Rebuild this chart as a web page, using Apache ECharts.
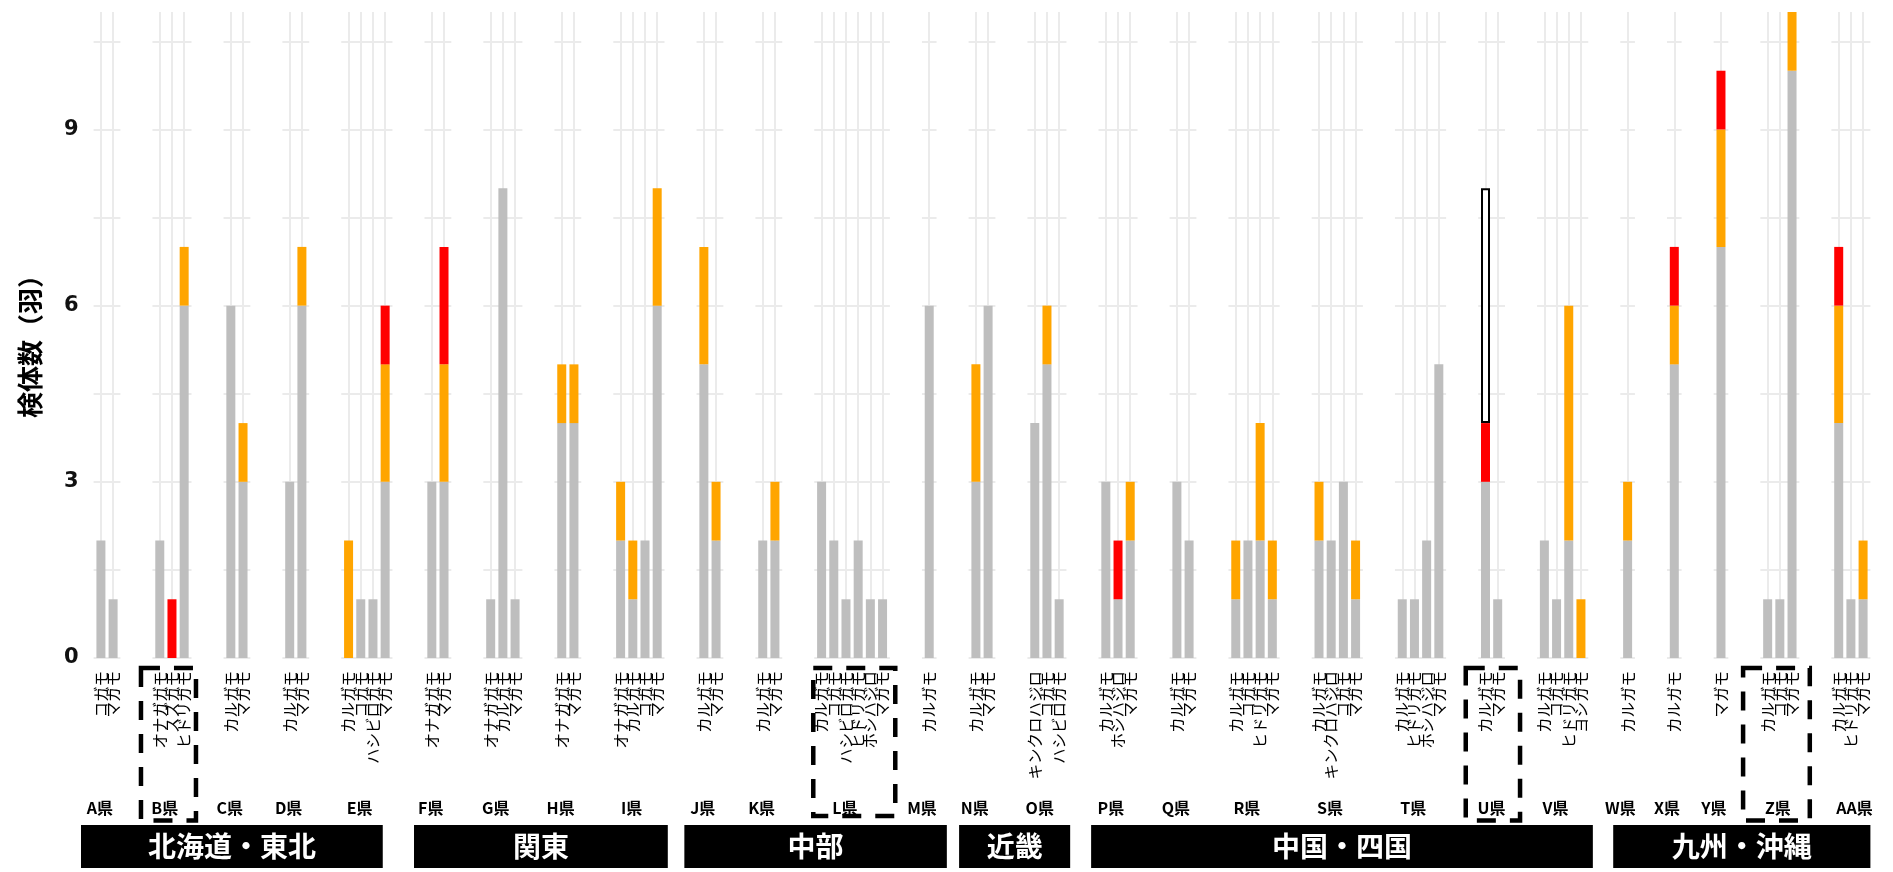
<!DOCTYPE html>
<html>
<head>
<meta charset="utf-8">
<script src="https://cdn.jsdelivr.net/npm/echarts@6/dist/echarts.min.js"></script>
<style>
html,body{margin:0;padding:0;background:#fff;}
#chart{width:1893px;height:872px;}
</style>
</head>
<body>
<div id="chart"></div>
<script>
// ---------------- DATA ----------------
const prefectures = ['A県','B県','C県','D県','E県','F県','G県','H県','I県','J県','K県','L県','M県','N県','O県','P県','Q県','R県','S県','T県','U県','V県','W県','X県','Y県','Z県','AA県'];
const speciesByPref = [
  ['コガモ','マガモ'],
  ['オナガガモ','スズガモ','ヒドリガモ'],
  ['カルガモ','マガモ'],
  ['カルガモ','マガモ'],
  ['カルガモ','コガモ','ハシビロガモ','マガモ'],
  ['オナガガモ','マガモ'],
  ['オナガガモ','カルガモ','マガモ'],
  ['オナガガモ','マガモ'],
  ['オナガガモ','カルガモ','コガモ','マガモ'],
  ['カルガモ','マガモ'],
  ['カルガモ','マガモ'],
  ['カルガモ','コガモ','ハシビロガモ','ヒドリガモ','ホシハジロ','マガモ'],
  ['カルガモ'],
  ['カルガモ','マガモ'],
  ['キンクロハジロ','コガモ','ハシビロガモ'],
  ['カルガモ','ホシハジロ','マガモ'],
  ['カルガモ','マガモ'],
  ['カルガモ','コガモ','ヒドリガモ','マガモ'],
  ['カルガモ','キンクロハジロ','コガモ','マガモ'],
  ['カルガモ','ヒドリガモ','ホシハジロ','マガモ'],
  ['カルガモ','マガモ'],
  ['カルガモ','コガモ','ヒドリガモ','ヨシガモ'],
  ['カルガモ'],
  ['カルガモ'],
  ['マガモ'],
  ['カルガモ','コガモ','マガモ'],
  ['カルガモ','ヒドリガモ','マガモ']
];
const grayValues = [
  [2,1],[2,0,6],[6,3],[3,6],[0,1,1,3],[3,3],[1,8,1],[4,4],[2,1,2,6],[5,2],[2,2],
  [3,2,1,2,1,1],[6],[3,6],[4,5,1],[3,1,2],[3,2],[1,2,2,1],[2,2,3,1],[1,1,2,5],
  [3,1],[2,1,2,0],[2],[5],[7],[1,1,10],[4,1,1]
];
const orangeValues = [
  [0,0],[0,0,1],[0,1],[0,1],[2,0,0,2],[0,2],[0,0,0],[1,1],[1,1,0,2],[2,1],[0,1],
  [0,0,0,0,0,0],[0],[2,0],[0,1,0],[0,0,1],[0,0],[1,0,2,1],[1,0,0,1],[0,0,0,0],
  [0,0],[0,0,4,1],[1],[1],[2],[0,0,1],[2,0,1]
];
const redValues = [
  [0,0],[0,1,0],[0,0],[0,0],[0,0,0,1],[0,2],[0,0,0],[0,0],[0,0,0,0],[0,0],[0,0],
  [0,0,0,0,0,0],[0],[0,0],[0,0,0],[0,1,0],[0,0],[0,0,0,0],[0,0,0,0],[0,0,0,0],
  [1,0],[0,0,0,0],[0],[1],[1],[0,0,0],[1,0,0]
];
const whiteValues = [
  [0,0],[0,0,0],[0,0],[0,0],[0,0,0,0],[0,0],[0,0,0],[0,0],[0,0,0,0],[0,0],[0,0],
  [0,0,0,0,0,0],[0],[0,0],[0,0,0],[0,0,0],[0,0],[0,0,0,0],[0,0,0,0],[0,0,0,0],
  [4,0],[0,0,0,0],[0],[0],[0],[0,0,0],[0,0,0]
];
const regionNames = ['北海道・東北','関東','中部','近畿','中国・四国','九州・沖縄'];
const regionMembers = [[0,4],[5,8],[9,12],[13,14],[15,21],[22,26]];
const highlighted = [1, 11, 20, 25];
const yTickLabels = [0, 3, 6, 9];
const yAxisTitle = '検体数（羽）';

// ---------------- LAYOUT / STYLE ----------------
const UNIT = 12.19, GAP = 32.05, LEFT0 = 93.6, TOP = 12, PLOT_H = 646, H = 872;
const Y_MAX = 11, STEP = 1.5;
const BAR_W = 9;
const C_GRAY = '#BEBEBE', C_ORANGE = '#FFA500', C_RED = '#FF0000', C_GRID = '#EBEBEB';
const JP = '"Noto Sans CJK JP", "Noto Sans", sans-serif';
const prefLabelShift = prefectures.map((p, i) => i === 20 ? 0 : (i === 25 ? -2 : (i === 26 ? 3.5 : -7.2)));
const regionPads = [[-12.6,-9.7],[-10.5,3.3],[-12.2,10.3],[-9.5,3.7],[-7.4,4.6],[-7.1,0]];
const boxGeom = {1:[-3.5,55,820.5], 11:[2.2,82,816], 20:[1.3,54.3,820.5], 25:[-3.4,66.7,820.5]};

const panels = [];
let cx = LEFT0;
speciesByPref.forEach(sp => {
  const w = (sp.length + 0.2) * UNIT;
  panels.push({left: cx, width: w});
  cx += w + GAP;
});

const grids = [], xAxes = [], yAxes = [], series = [];
const isCentre = idx => idx % 5 === 3;

speciesByPref.forEach((sp, i) => {
  const n = sp.length;
  const cats = [];
  for (let k = 0; k < 5 * n + 2; k++) cats.push('p' + k);
  sp.forEach((name, j) => { cats[3 + 5 * j] = name; });
  const P = panels[i];
  grids.push({left: P.left, width: P.width, top: TOP, height: PLOT_H, containLabel: false});
  const shift = prefLabelShift[i];
  xAxes.push({
    type: 'category', gridIndex: i, data: cats, boundaryGap: false,
    axisLine: {show: false}, axisTick: {show: false},
    axisLabel: {show: false},
    splitLine: {show: true, interval: isCentre, lineStyle: {color: C_GRID, width: 2}},
    name: prefectures[i], nameLocation: 'middle', nameGap: 142, nameMoveOverlap: false,
    nameTextStyle: {fontSize: 16, fontWeight: 'bold', color: '#000', fontFamily: JP,
      padding: shift < 0 ? [0, -2 * shift, 0, 0] : [0, 0, 0, 2 * shift]}
  });
  const y = {
    type: 'value', gridIndex: i, min: 0, max: Y_MAX, interval: STEP,
    axisLine: {show: false}, axisTick: {show: false},
    splitLine: {show: true, showMaxLine: false, lineStyle: {color: C_GRID, width: 2}},
    axisLabel: {show: i === 0, margin: 15, fontSize: 21, fontWeight: 'bold', color: '#111',
      fontFamily: '"DejaVu Sans", sans-serif',
      formatter: v => (yTickLabels.indexOf(v) >= 0 ? String(v) : '')}
  };
  if (i === 0) {
    y.name = yAxisTitle; y.nameLocation = 'middle'; y.nameRotate = 90; y.nameGap = 50;
    y.nameTextStyle = {fontSize: 26, fontWeight: 'bold', color: '#000', fontFamily: JP, padding: [0, 10, 0, 0]};
  }
  yAxes.push(y);
  // species names: zero-height bars carrying the category name as a rotated label
  series.push({
    type: 'bar', xAxisIndex: i, yAxisIndex: i, stack: 's' + i, barWidth: BAR_W,
    data: cats.map((c, k) => isCentre(k) ? 0 : '-'),
    itemStyle: {color: 'rgba(0,0,0,0)'}, silent: true, animation: false,
    label: {show: true, position: 'bottom', distance: 13, rotate: 90, align: 'right', verticalAlign: 'middle',
      formatter: '{b}', fontSize: 15.5, color: '#000', fontFamily: JP},
    labelLayout: {hideOverlap: false}
  });
  const mk = (vals, color, extra) => {
    const d = cats.map(() => '-');
    vals[i].forEach((v, j) => { if (v > 0) d[3 + 5 * j] = v; });
    return Object.assign({
      type: 'bar', xAxisIndex: i, yAxisIndex: i, stack: 's' + i, barWidth: BAR_W,
      data: d, itemStyle: {color: color}, silent: true, animation: false
    }, extra || {});
  };
  series.push(mk(grayValues, C_GRAY));
  series.push(mk(orangeValues, C_ORANGE));
  series.push(mk(redValues, C_RED));
  series.push(mk(whiteValues, '#FFFFFF', {itemStyle: {color: '#FFFFFF', borderColor: '#000', borderWidth: 2}}));
});

const graphics = [];
regionMembers.forEach((m, r) => {
  const a = panels[m[0]], b = panels[m[1]];
  const x0 = a.left + regionPads[r][0];
  const x1 = b.left + b.width + regionPads[r][1];
  graphics.push({type: 'rect', shape: {x: x0, y: 825, width: x1 - x0, height: 43}, style: {fill: '#000'}, silent: true});
  graphics.push({type: 'text', x: (x0 + x1) / 2, y: 846.5, silent: true,
    style: {text: regionNames[r], fill: '#fff', align: 'center', verticalAlign: 'middle',
      font: 'bold 28px ' + JP}});
});
highlighted.forEach(i => {
  const P = panels[i];
  const g = boxGeom[i];
  const c = P.left + P.width / 2 + g[0];
  graphics.push({type: 'rect', z: 100, silent: true,
    shape: {x: c - g[1] / 2, y: 668, width: g[1], height: g[2] - 668},
    style: {fill: 'none', stroke: '#000', lineWidth: 4.5, lineDash: [19, 14]}});
});

const chart = echarts.init(document.getElementById('chart'), null, {renderer: 'canvas'});
chart.setOption({
  animation: false,
  backgroundColor: '#fff',
  grid: grids, xAxis: xAxes, yAxis: yAxes, series: series,
  graphic: graphics
});
</script>
</body>
</html>
